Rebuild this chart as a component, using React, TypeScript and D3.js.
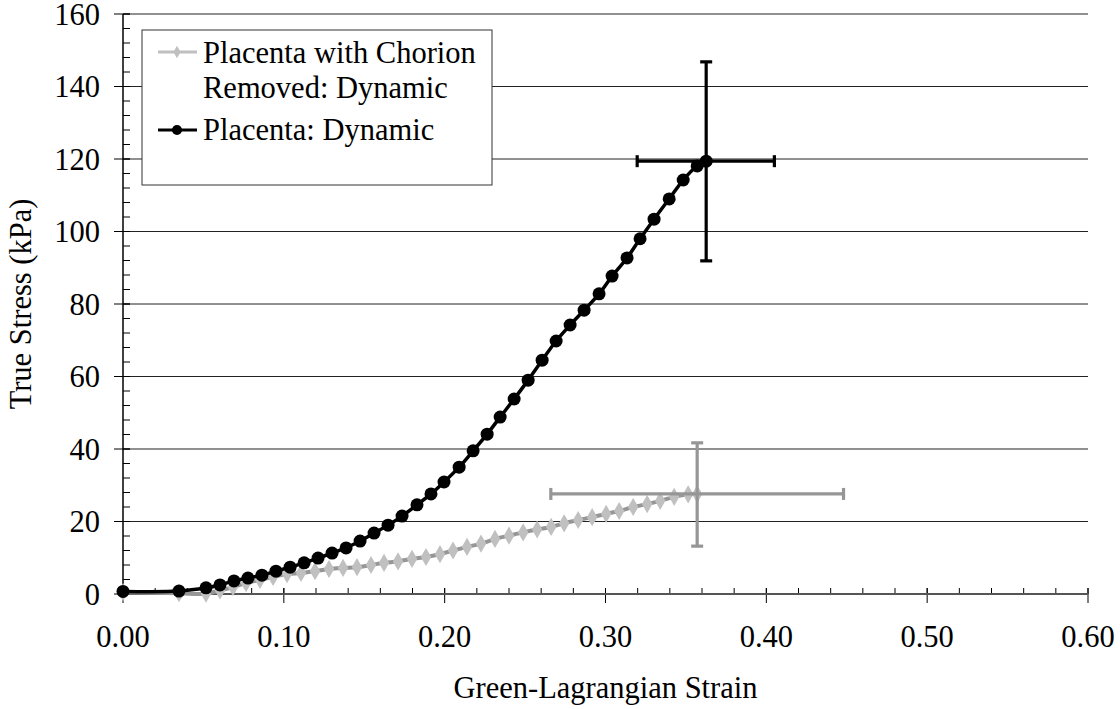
import React from "react";
import * as d3 from "d3";

// Placenta: Dynamic (black)
const blackStrain = [0, 0.0348, 0.0516, 0.0603, 0.069, 0.0777, 0.0864, 0.0951, 0.1039, 0.1126, 0.1213, 0.13, 0.1387, 0.1474, 0.1561, 0.1648, 0.1735, 0.1828, 0.1915, 0.1996, 0.209, 0.2177, 0.2264, 0.2345, 0.2432, 0.2519, 0.2606, 0.2693, 0.278, 0.2867, 0.296, 0.3041, 0.3134, 0.3215, 0.3302, 0.3396, 0.3483, 0.357, 0.3626];
const blackStress = [0.7, 0.8, 1.7, 2.5, 3.6, 4.4, 5.2, 6.3, 7.4, 8.6, 9.9, 11.3, 12.7, 14.6, 16.8, 19.0, 21.5, 24.6, 27.6, 30.9, 35.0, 39.5, 44.1, 48.8, 53.8, 59.0, 64.5, 69.8, 74.2, 78.3, 82.8, 87.7, 92.7, 98.0, 103.4, 109.0, 114.2, 118.1, 119.4];

// Placenta with Chorion Removed: Dynamic (gray)
const grayStrain = [0, 0.0348, 0.0516, 0.0603, 0.0684, 0.0765, 0.0852, 0.0933, 0.102, 0.1107, 0.1194, 0.1281, 0.1368, 0.1455, 0.1542, 0.1623, 0.171, 0.1797, 0.1884, 0.1971, 0.2052, 0.2139, 0.2226, 0.2313, 0.24, 0.2488, 0.2575, 0.2662, 0.2743, 0.283, 0.2917, 0.3004, 0.3085, 0.3172, 0.3259, 0.334, 0.3427, 0.3514, 0.357];
const grayStress = [0.5, 0.2, 0.1, 1.0, 1.9, 3.0, 3.9, 4.7, 5.5, 5.8, 6.3, 6.9, 7.2, 7.4, 8.0, 8.6, 9.0, 9.7, 10.2, 11.0, 12.0, 13.0, 13.9, 15.2, 16.1, 17.0, 17.8, 18.5, 19.5, 20.4, 21.2, 22.1, 22.9, 24.0, 24.8, 25.7, 26.8, 27.5, 27.6];

// Error bars: [x, y, xLow, xHigh, yLow, yHigh]
const blackErr = [0.3626, 119.4, 0.3197, 0.405, 91.9, 146.8];
const grayErr = [0.357, 27.6, 0.266, 0.448, 13.2, 41.7];

const xTicks = [0, 0.1, 0.2, 0.3, 0.4, 0.5, 0.6];
const yTicks = [0, 20, 40, 60, 80, 100, 120, 140, 160];

const FONT = "'Liberation Serif', 'Times New Roman', serif";
const FS = 30.5;

export default function App() {
  const W = 1120, H = 709;
  const x = d3.scaleLinear().domain([0, 0.6]).range([123, 1088]);
  const y = d3.scaleLinear().domain([0, 160]).range([594, 14]);

  const xMinor = d3.range(0, 0.6001, 0.02);
  const yMinor = d3.range(0, 160.01, 4);

  const blackPts: [number, number][] = blackStrain.map((s, i) => [x(s), y(blackStress[i])]);
  const grayPts: [number, number][] = grayStrain.map((s, i) => [x(s), y(grayStress[i])]);
  const lineGen = d3.line().curve(d3.curveCatmullRom.alpha(0.5));
  const diamond = d3.symbol().type(d3.symbolDiamond).size(95)();
  const diamondSmall = d3.symbol().type(d3.symbolDiamond).size(45)();

  const errBar = (e: number[], color: string, key: string) => {
    const cap = 6;
    const cx = x(e[0]), cy = y(e[1]);
    return (
      <g key={key} stroke={color} strokeWidth={3.2}>
        <line x1={x(e[2])} x2={x(e[3])} y1={cy} y2={cy} />
        <line x1={x(e[2])} x2={x(e[2])} y1={cy - cap} y2={cy + cap} />
        <line x1={x(e[3])} x2={x(e[3])} y1={cy - cap} y2={cy + cap} />
        <line x1={cx} x2={cx} y1={y(e[4])} y2={y(e[5])} />
        <line x1={cx - cap} x2={cx + cap} y1={y(e[4])} y2={y(e[4])} />
        <line x1={cx - cap} x2={cx + cap} y1={y(e[5])} y2={y(e[5])} />
      </g>
    );
  };

  return (
    <svg width={W} height={H} style={{ position: "absolute", left: 0, top: 0, background: "#fff" }} fontFamily={FONT}>
      <rect x={0} y={0} width={W} height={H} fill="#fff" />
      {/* gridlines */}
      {yTicks.filter((t) => t > 0).map((t) => (
        <line key={"g" + t} x1={x(0)} x2={x(0.6)} y1={y(t)} y2={y(t)} stroke="#222" strokeWidth={1} />
      ))}
      {/* y minor ticks */}
      {yMinor.map((t, i) => (
        <line key={"ym" + i} x1={x(0)} x2={x(0) + 7} y1={y(t)} y2={y(t)} stroke="#000" strokeWidth={1} />
      ))}
      {/* y major ticks */}
      {yTicks.map((t) => (
        <line key={"yM" + t} x1={x(0) - 9} x2={x(0) + 7} y1={y(t)} y2={y(t)} stroke="#000" strokeWidth={1} />
      ))}
      {/* x minor ticks */}
      {xMinor.map((t, i) => (
        <line key={"xm" + i} x1={x(t)} x2={x(t)} y1={y(0) - 6} y2={y(0)} stroke="#000" strokeWidth={1} />
      ))}
      {xTicks.map((t) => (
        <line key={"xM" + t} x1={x(t)} x2={x(t)} y1={y(0) - 6} y2={y(0) + 9} stroke="#000" strokeWidth={1} />
      ))}
      {/* axes */}
      <line x1={x(0)} x2={x(0)} y1={y(160)} y2={y(0)} stroke="#000" strokeWidth={1.5} />
      <line x1={x(0)} x2={x(0.6)} y1={y(0)} y2={y(0)} stroke="#555" strokeWidth={2} />

      {/* tick labels */}
      {yTicks.map((t) => (
        <text key={"yl" + t} x={100} y={y(t) + 10.5} textAnchor="end" fontSize={FS} fill="#000">{t}</text>
      ))}
      {xTicks.map((t) => (
        <text key={"xl" + t} x={x(t)} y={647} textAnchor="middle" fontSize={FS} fill="#000">{t.toFixed(2)}</text>
      ))}
      <text x={(x(0) + x(0.6)) / 2} y={698} textAnchor="middle" fontSize={FS} fill="#000">Green-Lagrangian Strain</text>
      <text transform={`translate(31, ${(y(0) + y(160)) / 2}) rotate(-90)`} textAnchor="middle" fontSize={FS} fill="#000">True Stress (kPa)</text>

      {/* gray series */}
      <path d={lineGen(grayPts) || ""} fill="none" stroke="#969696" strokeWidth={4} />
      {grayPts.map((p, i) => (
        <path key={"gd" + i} d={diamond || ""} transform={`translate(${p[0]},${p[1]})`} fill="#c0c0c0" />
      ))}
      {errBar(grayErr, "#969696", "ge")}

      {/* black series */}
      <path d={lineGen(blackPts) || ""} fill="none" stroke="#000" strokeWidth={3.5} />
      {blackPts.map((p, i) => (
        <circle key={"bc" + i} cx={p[0]} cy={p[1]} r={6.5} fill="#000" />
      ))}
      {errBar(blackErr, "#000", "be")}

      {/* legend */}
      <rect x={142} y={30} width={350} height={155} fill="#fff" stroke="#333" strokeWidth={1} />
      <line x1={158} x2={197} y1={52} y2={52} stroke="#c0c0c0" strokeWidth={3} />
      <path d={diamondSmall || ""} transform="translate(177,52)" fill="#c0c0c0" />
      <text x={203} y={63} fontSize={FS} fill="#000">Placenta with Chorion</text>
      <text x={203} y={98} fontSize={FS} fill="#000">Removed: Dynamic</text>
      <line x1={158} x2={197} y1={130} y2={130} stroke="#000" strokeWidth={3} />
      <circle cx={177} cy={130} r={5} fill="#000" />
      <text x={203} y={140} fontSize={FS} fill="#000">Placenta: Dynamic</text>
    </svg>
  );
}
